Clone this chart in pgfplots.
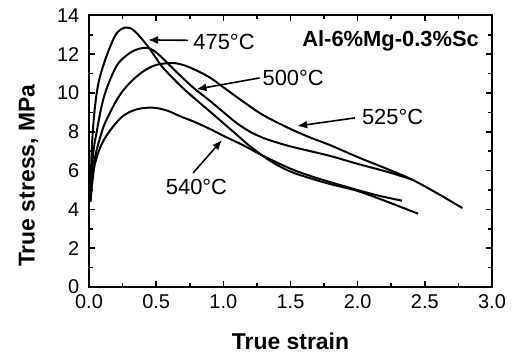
\documentclass[border=0pt]{standalone}
\usepackage{fontspec}
\setmainfont{Liberation Sans}
\usepackage{pgfplots}
\pgfplotsset{compat=1.18}
\usetikzlibrary{arrows.meta}
\tikzset{curve/.style={black, line width=1bp, smooth, tension=0.55, mark=none}}
\begin{document}
\fontsize{11}{13}\selectfont
\begin{tikzpicture}
\path[use as bounding box] (-44.5bp,-33.5bp) rectangle (212bp,143.5bp);
\begin{axis}[
  scale only axis, width=201.5bp, height=135.75bp,
  xmin=0, xmax=3, ymin=0, ymax=14,
  xtick={0,0.5,1,1.5,2,2.5,3}, ytick={0,2,4,6,8,10,12,14},
  minor x tick num=1, minor y tick num=1,
  tick align=inside, major tick length=3bp, minor tick length=2bp,
  tick style={line width=0.8bp, black},
  axis line style={line width=1bp},
  tick pos=both, xticklabel pos=lower, yticklabel pos=left,
  xticklabel style={/pgf/number format/.cd, fixed, fixed zerofill, precision=1},
  yticklabel style={xshift=-1bp},
  /pgf/number format/assume math mode=true,
  ticklabel style={font=\fontsize{10}{12}\selectfont},
  xlabel={\fontsize{11.5}{13}\selectfont\bfseries True strain},
  ylabel={\fontsize{11.5}{13}\selectfont\bfseries True stress, MPa},
  xlabel style={at={(axis description cs:0.5,-0.2)}, anchor=center},
  ylabel style={at={(axis description cs:-0.15,0.41)}, anchor=center},
  clip=false,
]
% 475 C
\addplot[curve] coordinates {(0.01,4.4)(0.02,7.0)(0.04,9.0)(0.07,10.5)(0.12,11.7)(0.19,12.9)(0.24,13.3)(0.29,13.38)(0.33,13.25)(0.38,12.9)(0.45,12.3)(0.54,11.4)(0.62,10.8)(0.70,10.25)(0.79,9.7)(0.9,9.05)(1.0,8.45)(1.1,7.85)(1.2,7.25)(1.35,6.5)(1.5,5.95)(1.65,5.6)(1.8,5.3)(2.0,4.95)(2.2,4.45)(2.45,3.78)};
% 500 C
\addplot[curve] coordinates {(0.01,4.4)(0.03,6.8)(0.06,8.1)(0.09,9.2)(0.12,10.0)(0.17,10.9)(0.22,11.55)(0.3,12.05)(0.37,12.28)(0.43,12.33)(0.48,12.2)(0.54,11.85)(0.62,11.3)(0.71,10.7)(0.79,10.2)(0.9,9.6)(1.0,9.02)(1.1,8.45)(1.2,8.0)(1.3,7.68)(1.4,7.45)(1.5,7.25)(1.65,7.0)(1.8,6.75)(2.0,6.35)(2.24,5.9)(2.41,5.52)};
% 525 C
\addplot[curve] coordinates {(0.01,4.4)(0.04,6.5)(0.1,8.1)(0.15,8.9)(0.22,9.8)(0.3,10.5)(0.4,11.1)(0.5,11.45)(0.62,11.55)(0.7,11.45)(0.79,11.2)(0.9,10.8)(1.0,10.3)(1.16,9.5)(1.3,8.85)(1.5,8.15)(1.65,7.7)(1.8,7.3)(2.0,6.7)(2.24,6.03)(2.41,5.52)(2.6,4.8)(2.78,4.07)};
% 540 C
\addplot[curve] coordinates {(0.01,4.4)(0.04,6.2)(0.09,7.3)(0.16,8.1)(0.25,8.8)(0.35,9.15)(0.47,9.25)(0.58,9.1)(0.68,8.8)(0.79,8.5)(0.9,8.15)(1.0,7.8)(1.15,7.3)(1.3,6.75)(1.5,6.1)(1.65,5.72)(1.8,5.4)(2.0,5.0)(2.15,4.72)(2.33,4.45)};
% labels and arrows
\node at (axis cs:1.005,12.66) {475°C};
\node at (axis cs:1.52,10.78) {500°C};
\node at (axis cs:2.26,8.77) {525°C};
\node at (axis cs:0.80,5.16) {540°C};
\node[anchor=east] at (axis cs:2.96,12.69) {\bfseries Al-6\%Mg-0.3\%Sc};
\begin{scope}[line width=0.8bp, -{Latex[length=5bp,width=4bp]}]
\draw (axis cs:0.737,12.72) -- (axis cs:0.44,12.74);
\draw (axis cs:1.27,10.78) -- (axis cs:0.80,10.2);
\draw (axis cs:1.98,8.72) -- (axis cs:1.55,8.3);
\draw (axis cs:0.775,5.88) -- (axis cs:0.99,7.58);
\end{scope}
\end{axis}
\end{tikzpicture}
\end{document}
